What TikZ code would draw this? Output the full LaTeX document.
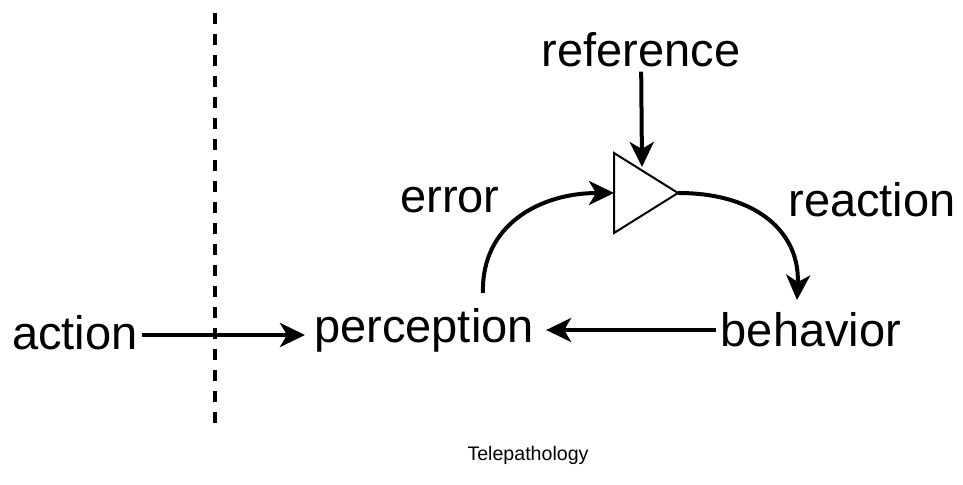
\documentclass[tikz,border=0pt]{standalone}
\usepackage{fontspec}
\setmainfont{Liberation Sans}
\usepackage{tikz}
\usetikzlibrary{positioning,calc}
\usetikzlibrary{shapes.geometric, arrows.meta}
\tikzstyle{label} = [inner sep=2pt, font=\fontsize{23.5}{28}\selectfont]
\tikzstyle{arrow} = [line width=2pt,->,>={Stealth[length=12.5pt,width=12pt,inset=3.5pt]}]

\begin{document}
\begin{tikzpicture}[x=0.5pt,y=-0.5pt]
        % frame
        \useasboundingbox (0,0) rectangle (963,485);
        % dashed border
        \draw[line width=2.2pt, dash pattern=on 5.3pt off 5.2pt] (215,13) -- (215,430);
        % words
        \node[label] (action) at (75,333) {action};
        \node[label] (perception) at (424,330) {perception};
        \node[label] (behavior) at (811,330) {behavior};
        \node[label] (reference) at (641,50) {reference};
        \node[label] (error) at (450,200) {error};
        \node[label] (reaction) at (872,200) {reaction};
        \node[inner sep=2pt, font=\fontsize{9.8}{12}\selectfont] (caption) at (528,455) {Telepathology};
        % comparator
        \coordinate (tin) at (614,193);
        \coordinate (tout) at (678,193);
        \draw[line width=1pt, fill=white] (614,153) -- (tout) -- (614,233) -- cycle;
        \coordinate (start) at (483,293);
        \coordinate (stop) at (797,300);
        \coordinate (refend) at (642,167);
        \coordinate (actend) at (305,335);
        % connectors
        \draw[arrow] (action.east |- actend) -- (actend);
        \draw[arrow] (behavior) -- ($(perception.east)+(8,0)$);
        \draw[arrow] (reference) -- (refend);
        \draw[arrow] (start) .. controls (481,225) and (540,193) .. (tin);
        \draw[arrow] (tout) .. controls (760,193) and (800,235) .. (stop);
\end{tikzpicture}
\end{document}
